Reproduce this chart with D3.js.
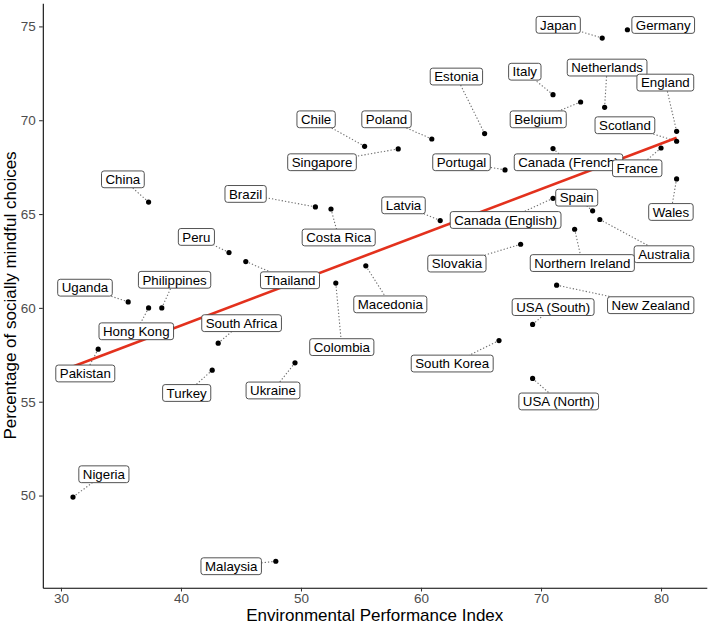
<!DOCTYPE html>
<html>
<head>
<meta charset="utf-8">
<title>EPI vs socially mindful choices</title>
<style>
body { margin: 0; background: #fff; }
svg text { font-family: "Liberation Sans", Arial, Helvetica, sans-serif; }
.axis path, .axis line { stroke: #000; stroke-width: 1.07px; }
.axis .tick line { stroke: #333; }
.axis text { font-size: 13.5px; fill: #4d4d4d; }
.seg { stroke: #6e6e6e; stroke-width: 1.1px; stroke-dasharray: 1.3,2; fill: none; }
.fit { stroke: #e3311d; stroke-width: 2.6px; fill: none; }
.lab rect { fill: #fff; stroke: #404040; stroke-width: 0.9px; }
.lab text { font-size: 13.3px; fill: #000; }
.title { font-size: 17px; fill: #000; }
</style>
</head>
<body>
<script src="https://d3js.org/d3.v7.min.js"></script>
<script>

var countries = ["China", "Peru", "Uganda", "Hong Kong", "Philippines", "Pakistan", "Nigeria",
  "Turkey", "South Africa", "Chile", "Singapore", "Poland", "Brazil", "Costa Rica", "Latvia",
  "Thailand", "Macedonia", "Colombia", "Ukraine", "Malaysia", "Japan", "Germany", "Italy",
  "Belgium", "Netherlands", "England", "Scotland", "Canada (French)", "France", "Estonia",
  "Portugal", "Wales", "Canada (English)", "Spain", "Australia", "Northern Ireland",
  "Slovakia", "New Zealand", "USA (South)", "South Korea", "USA (North)"];

var epi = [37.3, 44.0, 35.6, 37.3, 38.4, 33.1, 31.0,
  42.6, 43.1, 55.3, 58.1, 60.9, 51.2, 52.5, 61.6,
  45.4, 55.4, 52.9, 49.5, 47.9, 75.1, 77.2, 71.0,
  73.3, 75.3, 81.3, 81.3, 71.0, 80.0, 65.3,
  67.0, 81.3, 71.0, 74.3, 74.9, 72.8,
  68.3, 71.3, 69.3, 66.5, 69.3];

var mindful = [65.64, 62.95, 60.32, 60.0, 60.0, 57.8, 49.92,
  56.68, 58.12, 68.61, 68.47, 69.0, 65.38, 65.27, 64.65,
  62.47, 62.24, 61.32, 57.07, 46.5, 74.38, 74.82, 71.36,
  70.97, 70.69, 69.41, 68.88, 68.49, 68.52, 69.29,
  67.35, 66.87, 65.84, 65.17, 64.71, 64.19,
  63.39, 61.21, 59.12, 58.26, 56.24];

// where each label sits relative to its point, in px (as the repel step left them)
var labelDx = [-25.7, -32.6, -43.2, -12.3, 12.8, -12.9, 30.9,
  -25.5, 23.4, -48.5, -76.2, -45.3, -69.8, 7.7, -36.7,
  44.2, 24.5, 6, -22, -44.6, -44, 35.8, -28.2,
  -42.4, 2.5, -11.3, -51.7, 15.5, -23.8, -28.2,
  -43.5, -5.7, -47.4, -15.9, 64.2, 7.7,
  -63.7, 94.1, 20.5, -46.8, 26.1];
var labelDy = [-22.7, -15.6, -14.2, 23.4, -28.1, 24.3, -22.8,
  22.8, -20, -27, 13.3, -19.7, -13, 28.5, -15.3,
  18.7, 38.5, 64, 27.6, 5, -13.2, -4.8, -23,
  17.3, -39.7, -48.7, -16, 13.7, 20.3, -57,
  -7.7, 33, 21.7, -13.2, 34.7, 33.8,
  19.3, 20, -17.3, 23, 23];

// fitted linear trend, ends at the data range
var fitX = [31.0, 81.3];
var fitY = [56.88, 69.07];

var xTicks = [30, 40, 50, 60, 70, 80];
var yTicks = [50, 55, 60, 65, 70, 75];

var width = 708, height = 626;
var panel = {left: 42.8, right: 706.8, top: 3.2, bottom: 587.8};

function expand(ext) {
  var d = (ext[1] - ext[0]) * 0.05;
  return [ext[0] - d, ext[1] + d];
}

var x = d3.scaleLinear().domain(expand(d3.extent(epi))).range([panel.left, panel.right]);
var y = d3.scaleLinear().domain(expand(d3.extent(mindful))).range([panel.bottom, panel.top]);

var svg = d3.select("body").append("svg")
  .attr("width", width)
  .attr("height", height);

var data = countries.map(function(c, i) {
  return {name: c, ex: epi[i], my: mindful[i], dx: labelDx[i], dy: labelDy[i]};
});

// axes
svg.append("g")
  .attr("class", "axis")
  .attr("transform", "translate(0," + panel.bottom + ")")
  .call(d3.axisBottom(x).tickValues(xTicks).tickSize(3.7).tickSizeOuter(0).tickPadding(2.2));

svg.append("g")
  .attr("class", "axis")
  .attr("transform", "translate(" + panel.left + ",0)")
  .call(d3.axisLeft(y).tickValues(yTicks).tickSize(3.7).tickSizeOuter(0).tickPadding(3.3));

svg.append("text")
  .attr("class", "title")
  .attr("x", (panel.left + panel.right) / 2)
  .attr("y", 621)
  .attr("text-anchor", "middle")
  .text("Environmental Performance Index");

svg.append("text")
  .attr("class", "title")
  .attr("transform", "translate(16," + (panel.top + panel.bottom) / 2 + ") rotate(-90)")
  .attr("text-anchor", "middle")
  .text("Percentage of socially mindful choices");

// labels first measured so the segments can stop at the box edge
var labs = svg.append("g");
var boxH = 16.8, padX = 4;

var lab = labs.selectAll("g.lab")
  .data(data)
  .enter().append("g")
  .attr("class", "lab");

lab.append("rect");
lab.append("text")
  .attr("text-anchor", "middle")
  .attr("dy", "0.36em")
  .text(function(d) { return d.name; });

lab.each(function(d) {
  var t = d3.select(this).select("text");
  d.w = t.node().getComputedTextLength() + 2 * padX;
  d.px = x(d.ex);
  d.py = y(d.my);
  d.cx = d.px + d.dx;
  d.cy = d.py + d.dy;
  t.attr("x", d.cx).attr("y", d.cy);
  d3.select(this).select("rect")
    .attr("x", d.cx - d.w / 2)
    .attr("y", d.cy - boxH / 2)
    .attr("width", d.w)
    .attr("height", boxH)
    .attr("rx", 2.5);
});

// segments from point to label edge
var segs = svg.insert("g", function() { return labs.node(); });
data.forEach(function(d) {
  var vx = d.px - d.cx, vy = d.py - d.cy;
  var tx = Math.abs(vx) > 0 ? (d.w / 2) / Math.abs(vx) : Infinity;
  var ty = Math.abs(vy) > 0 ? (boxH / 2) / Math.abs(vy) : Infinity;
  var t = Math.min(tx, ty);
  if (t >= 1) return;
  var ex = d.cx + vx * t, ey = d.cy + vy * t;
  var len = Math.hypot(d.px - ex, d.py - ey);
  if (len < 7) return;
  segs.append("line")
    .attr("class", "seg")
    .attr("x1", d.px).attr("y1", d.py)
    .attr("x2", ex).attr("y2", ey);
});

// trend line and points, under the labels
var fit = d3.line()
  .x(function(d, i) { return x(fitX[i]); })
  .y(function(d, i) { return y(fitY[i]); });

svg.insert("path", function() { return labs.node(); })
  .datum(fitX)
  .attr("class", "fit")
  .attr("d", fit);

svg.insert("g", function() { return labs.node(); })
  .selectAll("circle")
  .data(data)
  .enter().append("circle")
  .attr("cx", function(d) { return x(d.ex); })
  .attr("cy", function(d) { return y(d.my); })
  .attr("r", 2.6)
  .attr("fill", "#000");

</script>
</body>
</html>
